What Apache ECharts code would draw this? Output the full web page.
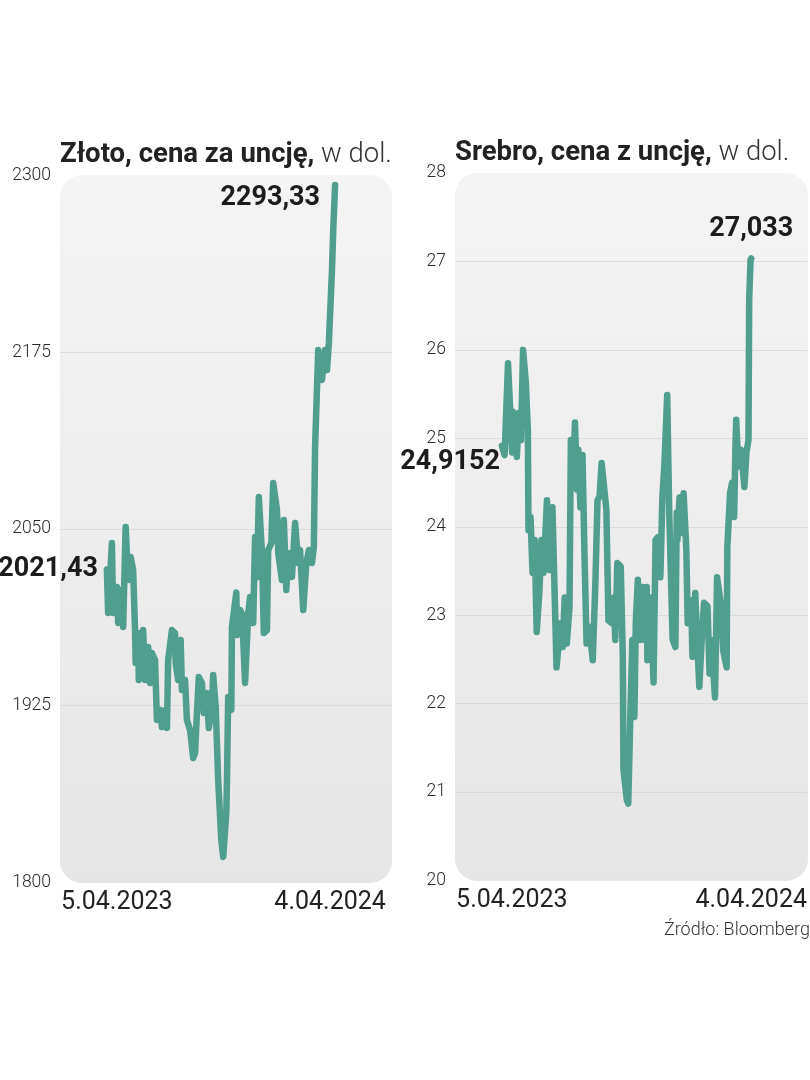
<!DOCTYPE html>
<html>
<head>
<meta charset="utf-8">
<script src="https://cdn.jsdelivr.net/npm/echarts@6/dist/echarts.min.js"></script>
<style>
html,body{margin:0;padding:0;background:#fff;}
#c{width:810px;height:1080px;}
</style>
</head>
<body>
<div id="c"></div>
<script>
// ---- data ----
const xLabels = ['5.04.2023', '4.04.2024'];
const xLabelDays = [0, 365];

const goldTicks = [1800, 1925, 2050, 2175, 2300];
const goldGridTicks = [1925, 2050, 2175];
const goldDays = [0,2,8,10,16,18,21,26,30,34,38,42,45,46,50,51,58,61,66,69,72,77,80,85,88,93,96,98,104,109,110,114,118,120,125,128,133,138,141,144,147,152,155,160,163,168,170,174,178,183,186,191,192,194,199,200,207,208,213,216,218,221,226,229,234,237,240,243,248,251,256,258,263,266,272,274,280,283,287,290,296,301,306,309,314,319,323,328,331,333,338,344,349,352,355,360,362,365];
const goldValues = [2021.43,1990.6,2040.1,1990.6,2009,1983.5,2006.8,1980.7,2051.4,2013.9,2030.2,2021,1978.5,1955.2,1976.4,1943.2,1978.5,1943.2,1966.5,1941.1,1962.3,1957.3,1914.9,1922,1909.9,1922,1909.2,1957.3,1978.5,1976.4,1955.2,1943.2,1971.5,1936.1,1943.2,1914.9,1907.8,1888,1891.5,1919.8,1945.3,1941.1,1919.8,1934,1909.2,1924.1,1946.7,1924.1,1872.4,1830,1818,1849.1,1870.3,1931.2,1922,1980.7,2005,1975,1992.7,1990,1971.5,1941.1,1990,2001.9,1983.5,2044.3,2016,2072.6,2033,1976.4,1978.5,2035.1,2040.1,2082.5,2063.4,2033,2013.9,2056.4,2006.8,2033,2016,2054.3,2025.9,2035.1,1992.7,2025.9,2035.1,2025.9,2037.3,2108,2176.6,2155.4,2176.6,2162.5,2181.6,2233.2,2261.5,2293.33];

const silverTicks = [20, 21, 22, 23, 24, 25, 26, 27, 28];
const silverGridTicks = [21, 22, 23, 24, 25, 26, 27];
const silverDays = [0,4,9,15,16,22,25,28,31,35,38,39,42,44,45,48,51,55,58,61,66,70,74,80,86,89,92,95,99,101,104,107,110,112,115,118,121,124,128,133,137,140,143,146,153,156,161,164,166,169,174,177,178,183,185,188,191,194,196,199,203,206,209,212,213,218,222,225,228,232,235,238,242,245,250,254,256,257,260,263,266,270,272,277,279,283,285,289,293,296,301,304,307,310,312,315,321,324,329,330,334,337,340,342,343,346,350,355,358,361,362,364,365];
const silverValues = [24.9152,24.81,25.85,24.84,25.3,24.79,25.29,24.98,26.0,25.64,25.10,23.96,24.11,23.66,23.48,23.85,22.81,23.28,23.85,23.48,24.30,23.51,24.22,22.41,22.91,22.64,23.2,22.68,23.09,24.98,24.53,25.18,24.42,24.87,24.22,24.81,23.66,22.68,22.87,22.49,23.40,24.30,24.34,24.72,24.19,22.94,22.91,23.2,22.72,23.59,23.55,22.53,21.25,20.91,20.87,21.85,22.72,21.85,22.91,23.40,22.72,23.32,22.72,23.32,22.49,23.2,22.24,23.85,23.88,23.43,24.34,24.72,25.49,24.15,22.72,22.64,24.16,23.85,24.33,23.93,24.38,23.74,22.91,23.17,22.53,23.25,22.87,22.19,22.8,23.14,23.1,22.34,22.72,22.3,22.07,23.43,23.1,22.6,22.41,23.77,24.38,24.5,24.11,24.95,25.21,24.68,24.87,24.45,24.84,24.98,26.57,27.02,27.033];

// ---- styles ----
const LINE = '#4f9e8e';
const FONT = 'Roboto, "Noto Sans", sans-serif';
const fmt = v => String(v).replace('.', ',');
const valLabel = {
  show: true, fontFamily: FONT, fontWeight: 'bold', fontSize: 27, color: '#1c1c1c',
  formatter: p => fmt(p.value)
};

function endPoints(days, vals, firstLbl, lastLbl) {
  const n = days.length - 1;
  return [
    { coord: [days[0], vals[0]], value: vals[0], label: Object.assign({}, valLabel, firstLbl) },
    { coord: [days[n], vals[n]], value: vals[n], label: Object.assign({}, valLabel, lastLbl) }
  ];
}

function panel(x, y, w, h) {
  return {
    type: 'rect', silent: true, z: -10,
    shape: { x: x, y: y, width: w, height: h, r: 22 },
    style: {
      fill: new echarts.graphic.LinearGradient(0, 0, 0, 1, [
        { offset: 0, color: '#f4f4f4' }, { offset: 1, color: '#e6e6e6' }
      ])
    }
  };
}

const yLabelStyle = { fontFamily: FONT, fontWeight: 300, fontSize: 17.5, color: '#2a2a2a', margin: 9, formatter: v => String(v) };
const xLabelBase = { fontFamily: FONT, fontSize: 25, color: '#222', margin: 8 };

const chart = echarts.init(document.getElementById('c'), null, { renderer: 'canvas' });
chart.setOption({
  backgroundColor: '#ffffff',
  animation: false,
  title: [
    {
      left: 60, top: 141, padding: 0,
      text: '{b|Złoto, cena za uncję,}{l| w dol.}',
      textStyle: { rich: {
        b: { fontFamily: FONT, fontWeight: 'bold', fontSize: 27.5, color: '#222' },
        l: { fontFamily: FONT, fontWeight: 300, fontSize: 27.5, color: '#333' }
      } }
    },
    {
      left: 455, top: 139, padding: 0,
      text: '{b|Srebro, cena z uncję,}{l| w dol.}',
      textStyle: { rich: {
        b: { fontFamily: FONT, fontWeight: 'bold', fontSize: 27.5, color: '#222' },
        l: { fontFamily: FONT, fontWeight: 300, fontSize: 27.5, color: '#333' }
      } }
    },
    {
      right: 0, top: 921, padding: 0,
      text: 'Źródło: Bloomberg',
      textStyle: { fontFamily: FONT, fontWeight: 300, fontSize: 18, color: '#333' }
    }
  ],
  graphic: [panel(60, 175, 332, 708), panel(455, 173, 353, 708)],
  grid: [
    { left: 60, top: 175.6, width: 332, height: 706.8 },
    { left: 455, top: 173, width: 353, height: 707.5 }
  ],
  xAxis: [
    {
      type: 'value', gridIndex: 0, min: -75, max: 456,
      axisLine: { show: false }, axisTick: { show: false }, splitLine: { show: false },
      axisLabel: Object.assign({}, xLabelBase, {
        customValues: xLabelDays,
        formatter: v => v === xLabelDays[0] ? '{s|' + xLabels[0] + '}' : '{e|' + xLabels[1] + '}',
        rich: {
          s: { fontFamily: FONT, fontSize: 25, color: '#222', padding: [0, 0, 0, 20] },
          e: { fontFamily: FONT, fontSize: 25, color: '#222', padding: [0, 10, 0, 0] }
        }
      })
    },
    {
      type: 'value', gridIndex: 1, min: -68.6, max: 446.8,
      axisLine: { show: false }, axisTick: { show: false }, splitLine: { show: false },
      axisLabel: Object.assign({}, xLabelBase, {
        customValues: xLabelDays,
        formatter: v => v === xLabelDays[0] ? '{s|' + xLabels[0] + '}' : '{e|' + xLabels[1] + '}',
        rich: {
          s: { fontFamily: FONT, fontSize: 25, color: '#222', padding: [0, 0, 0, 20] },
          e: { fontFamily: FONT, fontSize: 25, color: '#222' }
        }
      })
    }
  ],
  yAxis: [
    {
      type: 'value', gridIndex: 0, min: 1800, max: 2300,
      axisLine: { show: false },
      axisTick: { show: false, customValues: goldGridTicks },
      axisLabel: Object.assign({}, yLabelStyle, { customValues: goldTicks }),
      splitLine: { show: true, lineStyle: { color: '#dadada', width: 1 } }
    },
    {
      type: 'value', gridIndex: 1, min: 20, max: 28, interval: 1,
      axisLine: { show: false },
      axisTick: { show: false, customValues: silverGridTicks },
      axisLabel: Object.assign({}, yLabelStyle, { customValues: silverTicks }),
      splitLine: { show: true, lineStyle: { color: '#dadada', width: 1 } }
    }
  ],
  series: [
    {
      type: 'line', xAxisIndex: 0, yAxisIndex: 0,
      showSymbol: false,
      lineStyle: { color: LINE, width: 6.5, cap: 'round', join: 'round' },
      data: goldDays.map((d, i) => [d, goldValues[i]]),
      markPoint: {
        symbol: 'circle', symbolSize: 0, silent: true,
        data: endPoints(goldDays, goldValues,
          { position: 'left', distance: 9 },
          { position: 'left', distance: 15, offset: [0, 13] })
      }
    },
    {
      type: 'line', xAxisIndex: 1, yAxisIndex: 1,
      showSymbol: false,
      lineStyle: { color: LINE, width: 6.5, cap: 'round', join: 'round' },
      data: silverDays.map((d, i) => [d, silverValues[i]]),
      markPoint: {
        symbol: 'circle', symbolSize: 0, silent: true,
        data: endPoints(silverDays, silverValues,
          { position: 'left', distance: 2, offset: [0, 16] },
          { position: 'top', distance: 16 })
      }
    }
  ]
});
</script>
</body>
</html>
